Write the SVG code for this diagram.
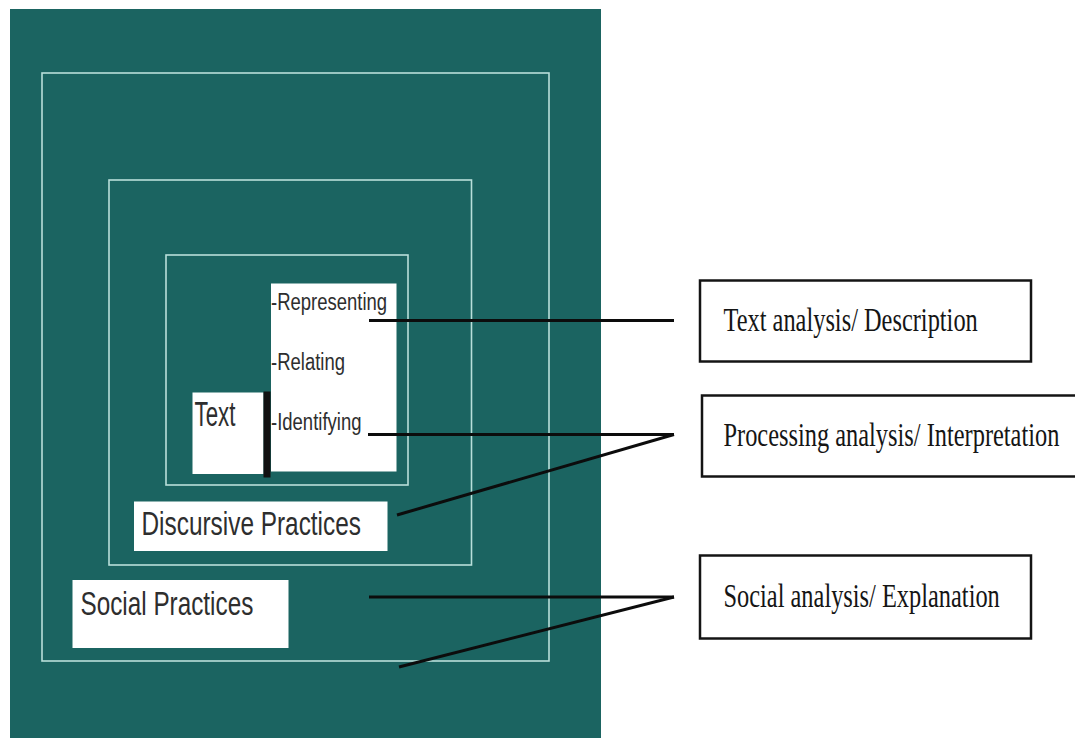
<svg xmlns="http://www.w3.org/2000/svg" width="1075" height="738" viewBox="0 0 1075 738">
  <style>
    .frame { fill: none; stroke: #b9dfda; stroke-width: 1.6; }
    .wbox { fill: #ffffff; }
    .sans { font-family: "Liberation Sans", Arial, sans-serif; fill: #2e2e2e; }
    .serif { font-family: "Liberation Serif", "Times New Roman", serif; fill: #151515; font-size: 24.4px; }
    .label { fill: #ffffff; stroke: #141414; stroke-width: 2.5; }
    .conn { stroke: #0c0c0c; stroke-width: 3; fill: none; stroke-linecap: butt; }
  </style>
  <rect x="0" y="0" width="1075" height="738" fill="#ffffff"/>
  <g id="background">
    <rect x="10" y="9" width="591" height="729" fill="#1b6461"/>
  </g>
  <g id="social-frame">
    <rect class="frame" x="42" y="73" width="507" height="588"/>
  </g>
  <g id="discursive-frame">
    <rect class="frame" x="109" y="180" width="362.5" height="385"/>
  </g>
  <g id="text-frame">
    <rect class="frame" x="166" y="255" width="242" height="230"/>
  </g>
  <g id="functions-node">
    <rect class="wbox" x="271" y="283.5" width="125.5" height="188"/>
    <text class="sans" font-size="18.5" transform="translate(271,310) scale(1,1.26)">-Representing</text>
    <text class="sans" font-size="18.5" transform="translate(271,370) scale(1,1.26)">-Relating</text>
    <text class="sans" font-size="18.5" transform="translate(271,430) scale(1,1.26)">-Identifying</text>
  </g>
  <g id="text-node">
    <rect class="wbox" x="192.5" y="392.5" width="71" height="81.5"/>
    <rect x="263.5" y="391.5" width="7" height="86" fill="#111111"/>
    <text class="sans" font-size="22.3" transform="translate(194.5,426) scale(1,1.58)">Text</text>
  </g>
  <g id="discursive-node">
    <rect class="wbox" x="134" y="501.5" width="253.5" height="49.5"/>
    <text class="sans" font-size="24.4" transform="translate(141.5,535) scale(1,1.33)">Discursive Practices</text>
  </g>
  <g id="social-node">
    <rect class="wbox" x="72.5" y="580" width="216" height="68"/>
    <text class="sans" font-size="24.3" transform="translate(80.5,615) scale(1,1.34)">Social Practices</text>
  </g>
  <g id="connectors">
    <line class="conn" x1="369" y1="320.5" x2="674" y2="320.5"/>
    <line class="conn" x1="368" y1="434.5" x2="674" y2="434.5"/>
    <line class="conn" x1="674" y1="434.5" x2="397" y2="515"/>
    <line class="conn" x1="369" y1="597" x2="674" y2="597"/>
    <line class="conn" x1="674" y1="597" x2="399" y2="667"/>
  </g>
  <g id="text-analysis">
    <rect class="label" x="700" y="280.5" width="331" height="81"/>
    <text class="serif" transform="translate(723.5,331) scale(1,1.34)">Text analysis/ Description</text>
  </g>
  <g id="processing-analysis">
    <rect class="label" x="702" y="395.5" width="380" height="81"/>
    <text class="serif" transform="translate(723.5,445.5) scale(1,1.34)">Processing analysis/ Interpretation</text>
  </g>
  <g id="social-analysis">
    <rect class="label" x="700" y="555.5" width="331" height="83"/>
    <text class="serif" transform="translate(723.5,606.5) scale(1,1.34)">Social analysis/ Explanation</text>
  </g>
</svg>
